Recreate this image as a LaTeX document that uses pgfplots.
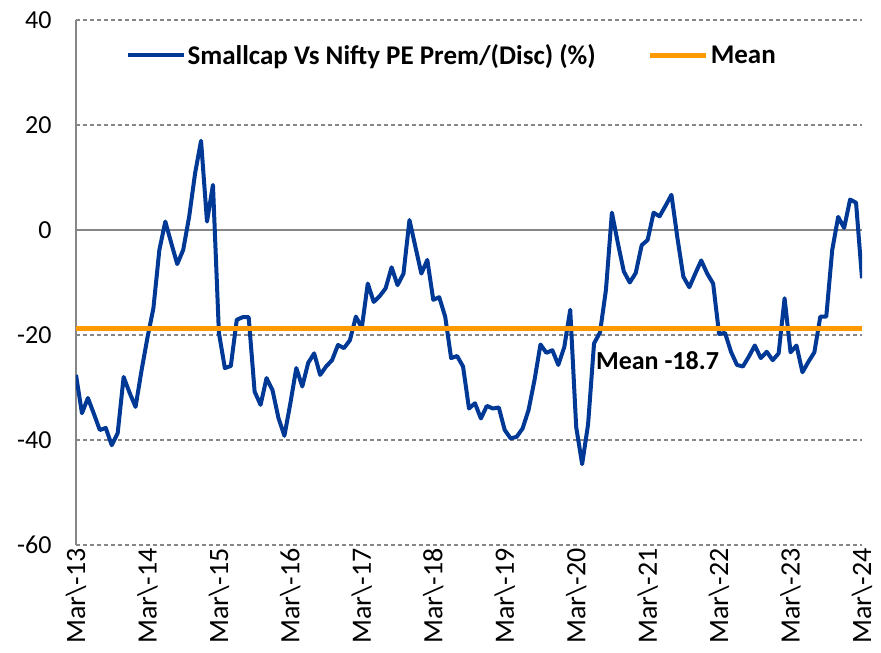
\documentclass[border=0pt]{standalone}
\usepackage{fontspec}
\setmainfont{Carlito}
\usepackage{pgfplots}
\pgfplotsset{compat=1.18}
\definecolor{navy}{RGB}{0,56,150}
\definecolor{meanor}{RGB}{255,153,0}
\definecolor{gridg}{RGB}{134,134,134}
\begin{document}
\begin{tikzpicture}
\begin{axis}[
  scale only axis, width=786pt, height=525pt,
  xmin=0, xmax=132, ymin=-60, ymax=40,
  axis y line*=left, axis x line*=bottom,
  x axis line style={draw=none},
  y axis line style={draw=gridg, line width=1.6pt, -},
  major tick length=0pt,
  ytick={-60,-40,-20,0,20,40},
  xtick={0,12,...,132},
  xticklabels={Mar\textbackslash-13,Mar\textbackslash-14,Mar\textbackslash-15,Mar\textbackslash-16,Mar\textbackslash-17,Mar\textbackslash-18,Mar\textbackslash-19,Mar\textbackslash-20,Mar\textbackslash-21,Mar\textbackslash-22,Mar\textbackslash-23,Mar\textbackslash-24},
  x tick label style={rotate=90, anchor=east, font=\fontsize{28}{32}\selectfont},
  y tick label style={font=\fontsize{26}{30}\selectfont, xshift=-21pt},
  /pgf/number format/assume math mode=true,
  ymajorgrids,
  grid style={draw=gridg, line width=1.3pt, dash pattern=on 4pt off 3pt},
  extra y ticks={0}, extra y tick labels={},
  extra y tick style={grid style={draw=gridg, line width=1.8pt, solid}},
  legend style={draw=none, fill=none, at={(0.478,0.933)}, anchor=center,
    legend columns=2, font=\bfseries\fontsize{27}{32}\selectfont,
    /tikz/every even column/.append style={column sep=50pt}},
  legend image code/.code={\draw[#1] (0pt,0pt) -- (56pt,0pt);},
]
\addplot[navy, line width=4pt, line join=round] coordinates {
(0,-27.6) (1,-34.9) (2,-32) (3,-35) (4,-38.1) (5,-37.7) (6,-41) (7,-38.7) (8,-28) (9,-31)
(10,-33.7) (11,-26.8) (12,-20.5) (13,-14.9) (14,-3.8) (15,1.6) (16,-2.5) (17,-6.5) (18,-3.8) (19,2.5)
(20,10.8) (21,17) (22,1.6) (23,8.6) (24,-19.6) (25,-26.3) (26,-25.9) (27,-17.1) (28,-16.6) (29,-16.6)
(30,-30.8) (31,-33.3) (32,-28.2) (33,-30.5) (34,-35.8) (35,-39.2) (36,-33) (37,-26.3) (38,-29.8) (39,-25.3)
(40,-23.5) (41,-27.6) (42,-26) (43,-24.8) (44,-21.9) (45,-22.5) (46,-21) (47,-16.5) (48,-18.6) (49,-10.2)
(50,-13.7) (51,-12.6) (52,-11.1) (53,-7.1) (54,-10.5) (55,-8.3) (56,1.9) (57,-3.2) (58,-8.3) (59,-5.7)
(60,-13.3) (61,-12.8) (62,-16.5) (63,-24.4) (64,-24) (65,-26) (66,-34) (67,-33) (68,-35.9) (69,-33.5)
(70,-34) (71,-33.8) (72,-38.1) (73,-39.7) (74,-39.4) (75,-37.8) (76,-34.3) (77,-28.6) (78,-21.8) (79,-23.4)
(80,-22.9) (81,-25.7) (82,-22.3) (83,-15.2) (84,-37.5) (85,-44.6) (86,-37) (87,-21.6) (88,-19.5) (89,-11.4)
(90,3.3) (91,-2.5) (92,-7.9) (93,-10) (94,-8.2) (95,-2.9) (96,-1.9) (97,3.3) (98,2.6) (99,4.6)
(100,6.7) (101,-1.5) (102,-8.9) (103,-10.9) (104,-8.3) (105,-5.8) (106,-8.3) (107,-10.2) (108,-19.8) (109,-19.6)
(110,-23.2) (111,-25.7) (112,-26) (113,-24.1) (114,-22) (115,-24.4) (116,-23.2) (117,-24.8) (118,-23.5) (119,-13)
(120,-23.3) (121,-22) (122,-27.1) (123,-25.1) (124,-23.3) (125,-16.5) (126,-16.5) (127,-3.8) (128,2.5) (129,0.4)
(130,5.8) (131,5.2) (132,-9.2)
};
\addlegendentry{Smallcap Vs Nifty PE Prem/(Disc) (\%)}
\addplot[meanor, line width=5pt] coordinates {(0,-18.7) (132,-18.7)};
\addlegendentry{Mean}
\node[anchor=west, inner sep=0pt, font=\bfseries\fontsize{26}{30}\selectfont] at (axis cs:87.3,-24.8) {Mean -18.7};
\coordinate (O) at (rel axis cs:0,0);
\end{axis}
\pgfresetboundingbox
\path (O) ++(-76pt,-108pt) rectangle ++(881pt,653pt);
\end{tikzpicture}
\end{document}
